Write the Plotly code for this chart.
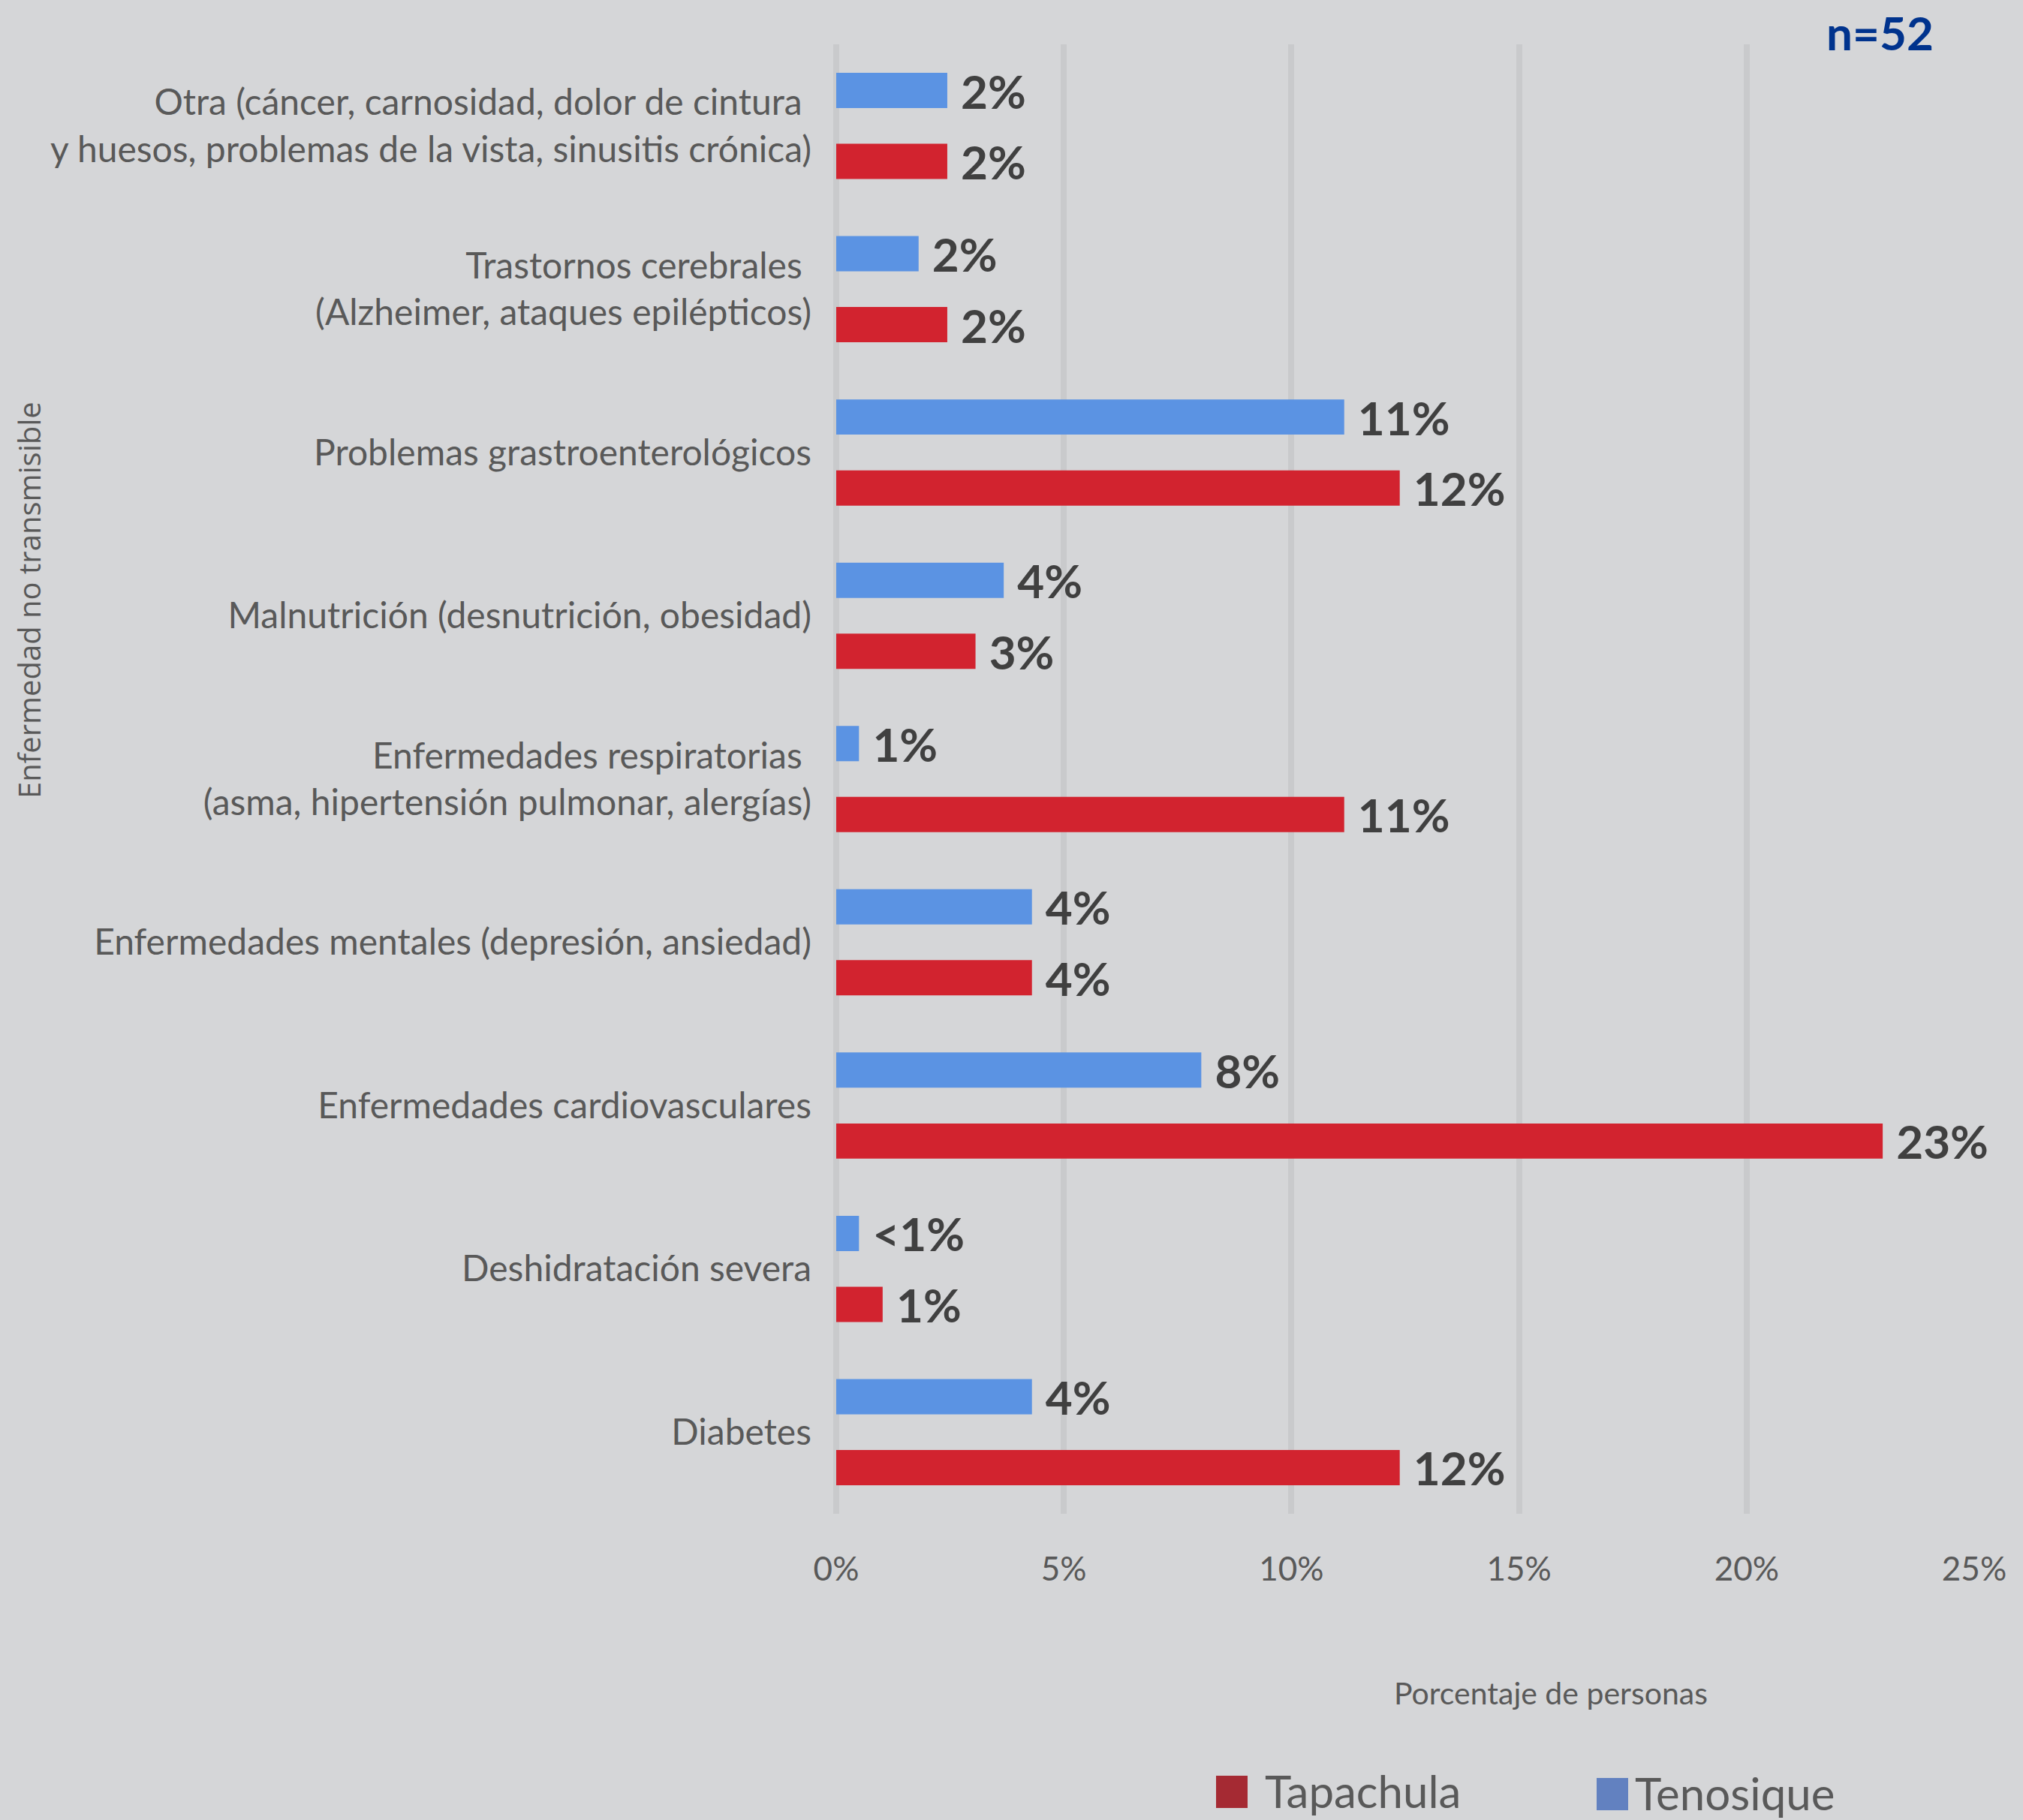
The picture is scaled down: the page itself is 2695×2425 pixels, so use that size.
import plotly.graph_objects as go

# ---------------- data ----------------
categories = [
    "Otra (cáncer, carnosidad, dolor de cintura\u00a0<br>y huesos, problemas de la vista, sinusitis crónica)",
    "Trastornos cerebrales\u00a0<br>(Alzheimer, ataques epilépticos)",
    "Problemas grastroenterológicos",
    "Malnutrición (desnutrición, obesidad)",
    "Enfermedades respiratorias\u00a0<br>(asma, hipertensión pulmonar, alergías)",
    "Enfermedades mentales (depresión, ansiedad)",
    "Enfermedades cardiovasculares",
    "Deshidratación severa",
    "Diabetes",
]
tenosique_values = [2.44, 1.81, 11.16, 3.68, 0.5, 4.30, 8.02, 0.5, 4.30]
tenosique_labels = ["2%", "2%", "11%", "4%", "1%", "4%", "8%", "<1%", "4%"]
tapachula_values = [2.44, 2.44, 12.38, 3.06, 11.16, 4.30, 22.99, 1.02, 12.38]
tapachula_labels = ["2%", "2%", "12%", "3%", "11%", "4%", "23%", "1%", "12%"]
series_names = ["Tapachula", "Tenosique"]
x_ticks = [0, 5, 10, 15, 20, 25]
x_tick_labels = ["0%", "5%", "10%", "15%", "20%", "25%"]

# ---------------- style ----------------
W, H = 2695, 2425
L, R, T, B = 1114, 65, 59, 408
BG = "#D5D6D8"
GRID = "#C9CACC"
BLUE = "#5B93E3"
RED = "#D2232F"
LEG_RED = "#A52A33"
LEG_BLUE = "#6281C0"
TXT = "#595959"
LBL = "#404040"

pw = W - L - R
ph = H - T - B


def px_x(x):
    return (x - L) / pw


def px_y(y):
    return (H - B - y) / ph


fig = go.Figure()
fig.add_trace(go.Bar(
    y=categories, x=tenosique_values, orientation="h", name=series_names[1],
    marker=dict(color=BLUE, line=dict(width=0)),
    text=["\u00a0" + t for t in tenosique_labels], textposition="outside",
    textfont=dict(family="Lato", size=62, color=LBL, weight="bold"),
    cliponaxis=False, constraintext="none", showlegend=False,
))
fig.add_trace(go.Bar(
    y=categories, x=tapachula_values, orientation="h", name=series_names[0],
    marker=dict(color=RED, line=dict(width=0)),
    text=["\u00a0" + t for t in tapachula_labels], textposition="outside",
    textfont=dict(family="Lato", size=62, color=LBL, weight="bold"),
    cliponaxis=False, constraintext="none", showlegend=False,
))

annotations = [
    dict(text="n=52", x=px_x(2504), y=px_y(43), xref="paper", yref="paper",
         xanchor="center", yanchor="middle", showarrow=False,
         font=dict(family="Lato", size=62, color="#00338D", weight="bold")),
    dict(text="Enfermedad no transmisible", x=px_x(38), y=px_y(800),
         xref="paper", yref="paper", xanchor="center", yanchor="middle",
         textangle=-90, showarrow=False,
         font=dict(family="Open Sans", size=40, color=TXT)),
    dict(text="Porcentaje de personas", x=px_x(2066), y=px_y(2255),
         xref="paper", yref="paper", xanchor="center", yanchor="middle",
         showarrow=False, font=dict(family="Lato", size=41, color=TXT)),
]

# legend (manual, large square swatches)
legend_items = [
    (series_names[0], LEG_RED, 1620, 1662, 2366, 2409, 1683),
    (series_names[1], LEG_BLUE, 2127, 2169, 2369, 2412, 2176),
]
shapes = []
for name, col, x0, x1, y0, y1, tx in legend_items:
    shapes.append(dict(type="rect", xref="paper", yref="paper",
                       x0=px_x(x0), x1=px_x(x1), y0=px_y(y1), y1=px_y(y0),
                       fillcolor=col, line=dict(width=0), layer="above"))
    annotations.append(dict(text=name, x=px_x(tx), y=px_y((y0 + y1) / 2 - 2),
                            xref="paper", yref="paper", xanchor="left",
                            yanchor="middle", showarrow=False,
                            font=dict(family="Lato", size=60, color=TXT)))

fig.update_layout(
    width=W, height=H,
    margin=dict(l=L, r=R, t=T, b=B, pad=0),
    paper_bgcolor=BG, plot_bgcolor=BG,
    barmode="group", bargap=0.131, bargroupgap=0.503,
    showlegend=False,
    annotations=annotations, shapes=shapes,
    xaxis=dict(
        range=[0, 25], tickmode="array", tickvals=x_ticks, ticktext=x_tick_labels,
        showgrid=True, gridcolor=GRID, gridwidth=8,
        zeroline=True, zerolinecolor=GRID, zerolinewidth=8,
        showline=False, ticks="",
        tickfont=dict(family="Lato", size=44, color=TXT),
        ticklabelstandoff=44,
    ),
    yaxis=dict(
        autorange="reversed", showgrid=False, zeroline=False, showline=False,
        ticks="", tickfont=dict(family="Lato", size=48, color=TXT),
        ticklabelstandoff=32,
    ),
)

fig.write_html(
    "out.html",
    config={"displayModeBar": False},
    post_script="document.body.style.margin='0';document.body.style.overflow='hidden';",
)
